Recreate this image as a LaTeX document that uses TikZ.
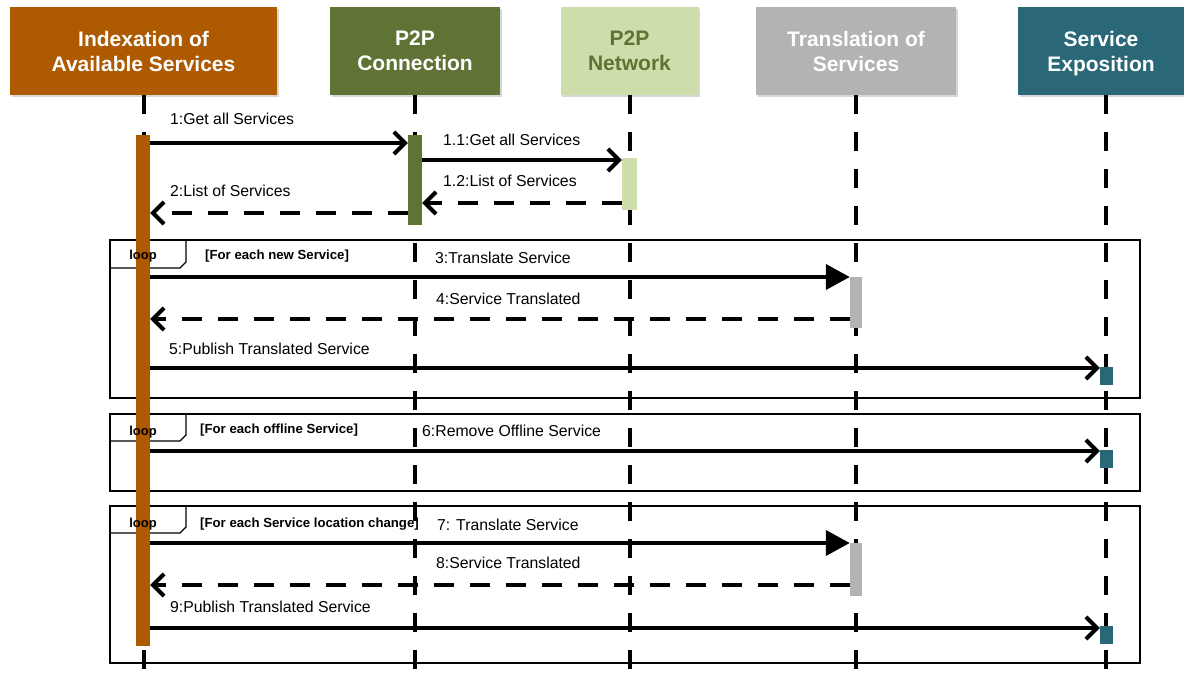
\documentclass[tikz,border=0pt]{standalone}
\usepackage{fontspec}
\setmainfont{Liberation Sans}
\usetikzlibrary{arrows.meta,shadows}

\definecolor{idxorange}{HTML}{AD5A00}
\definecolor{conngreen}{HTML}{5F7334}
\definecolor{netgreen}{HTML}{CDDDAB}
\definecolor{transgray}{HTML}{B3B3B3}
\definecolor{expoteal}{HTML}{2A6877}

\begin{document}
\begin{tikzpicture}[x=1pt,y=-1pt,
  header/.style={draw=none, minimum height=88pt, inner sep=0pt, align=center,
    font=\fontsize{21}{25}\selectfont\bfseries,
    drop shadow={shadow xshift=1.5pt, shadow yshift=-2pt, opacity=0.3}},
  lifeline/.style={line width=4pt, dash pattern=on 19pt off 18pt},
  actbar/.style={draw=none, inner sep=0pt},
  call/.style={line width=4pt, -{Straight Barb[length=11pt,width=22pt]}},
  callfill/.style={line width=4pt, -{Triangle[length=24pt,width=25pt]}},
  reply/.style={line width=4pt, dash pattern=on 20pt off 16pt, -{Straight Barb[length=11pt,width=22pt]}},
  msglabel/.style={anchor=west, inner sep=0pt, font=\fontsize{15.8}{18}\selectfont},
  frame/.style={line width=1.2pt},
  looptag/.style={inner sep=0pt, font=\fontsize{13}{15}\selectfont\bfseries},
  guard/.style={anchor=west, inner sep=0pt, font=\fontsize{13.2}{15}\selectfont\bfseries}
]
\useasboundingbox (0,0) rectangle (1184,673);
\fill[white] (0,0) rectangle (1184,673);

% participants
\node[header, fill=idxorange, text=white, minimum width=267pt] (h1) at (143.5,51) {Indexation of\\Available Services};
\node[header, fill=conngreen, text=white, minimum width=170pt] (h2) at (415,51) {P2P\\Connection};
\node[header, fill=netgreen, text=conngreen, minimum width=138pt] (h3) at (629.5,51) {P2P\\Network};
\node[header, fill=transgray, text=white, minimum width=200pt] (h4) at (856,51) {Translation of\\Services};
\node[header, fill=expoteal, text=white, minimum width=166pt] (h5) at (1101,51) {Service\\\raisebox{0pt}[\height][0pt]{Exposition}};

\coordinate (floor) at (0,673);
\coordinate (top5) at (1106,95);

% combined fragments (loops)
\draw[frame] (110,240) rectangle (1140,398);
\draw[frame] (110,268) -- (180,268) -- (186,262) -- (186,240);
\draw[frame] (110,414) rectangle (1140,491);
\draw[frame] (110,441) -- (180,441) -- (186,435) -- (186,414);
\draw[frame] (110,506) rectangle (1140,663);
\draw[frame] (110,533) -- (180,533) -- (186,527) -- (186,506);

\node[guard] (g1) at (205,256) {[For each new Service]};
\node[guard] (g2) at (200,430) {[For each offline Service]};
\node[guard] (g3) at (200,524) {[For each Service location change]};

% lifelines
\draw[lifeline] (h1.south) -- (h1.south |- floor);
\draw[lifeline] (h2.south) -- (h2.south |- floor);
\draw[lifeline] (h3.south) -- (h3.south |- floor);
\draw[lifeline] (h4.south) -- (h4.south |- floor);
\draw[lifeline] (top5) -- (top5 |- floor);

% activation bars
\node[actbar, fill=idxorange, minimum width=14pt, minimum height=511pt] (a1) at (143,390.5) {};
\node[actbar, fill=conngreen, minimum width=14pt, minimum height=90pt] (a2) at (415,180) {};
\node[actbar, fill=netgreen, minimum width=15pt, minimum height=52pt] (a3) at (629.5,184) {};
\node[actbar, fill=transgray, minimum width=12pt, minimum height=51pt] (a4) at (856,302.5) {};
\node[actbar, fill=transgray, minimum width=12pt, minimum height=53pt] (a4b) at (856,569.5) {};
\node[actbar, fill=expoteal, minimum width=13pt, minimum height=18pt] (s1) at (1106.5,376) {};
\node[actbar, fill=expoteal, minimum width=13pt, minimum height=18pt] (s2) at (1106.5,459) {};
\node[actbar, fill=expoteal, minimum width=13pt, minimum height=18pt] (s3) at (1106.5,634.5) {};

% loop tags
\node[looptag] (t1) at (143,256) {loop};
\node[looptag] (t2) at (143,432) {loop};
\node[looptag] (t3) at (143,524) {loop};

% message rows
\coordinate (y1) at (0,143);
\coordinate (y11) at (0,160);
\coordinate (y12) at (0,203);
\coordinate (y2) at (0,213);
\coordinate (y3) at (0,277);
\coordinate (y4) at (0,319);
\coordinate (y5) at (0,368);
\coordinate (y6) at (0,451);
\coordinate (y7) at (0,543);
\coordinate (y8) at (0,585);
\coordinate (y9) at (0,628);

% messages
\draw[call] (a1.east |- y1) -- (a2.west |- y1);
\draw[call] (a2.east |- y11) -- (a3.west |- y11);
\draw[reply] (a3.west |- y12) -- (a2.east |- y12);
\draw[reply] (a2.west |- y2) -- (a1.east |- y2);
\draw[callfill] (a1.east |- y3) -- (a4.west |- y3);
\draw[reply] (a4.west |- y4) -- (a1.east |- y4);
\draw[call] (a1.east |- y5) -- (s1.west |- y5);
\draw[call] (a1.east |- y6) -- (s2.west |- y6);
\draw[callfill] (a1.east |- y7) -- (a4b.west |- y7);
\draw[reply] (a4b.west |- y8) -- (a1.east |- y8);
\draw[call] (a1.east |- y9) -- (s3.west |- y9);

% message labels
\node[msglabel] (l1) at (170,119) {1:Get all Services};
\node[msglabel] (l11) at (443,140) {1.1:Get all Services};
\node[msglabel] (l12) at (443,181) {1.2:List of Services};
\node[msglabel] (l2) at (170,191) {2:List of Services};
\node[msglabel] (l3) at (435,258) {3:Translate Service};
\node[msglabel] (l4) at (436,299) {4:Service Translated};
\node[msglabel] (l5) at (169,349) {5:Publish Translated Service};
\node[msglabel] (l6) at (422,431) {6:Remove Offline Service};
\node[msglabel] (l7) at (437,525) {7: Translate Service};
\node[msglabel] (l8) at (436,563) {8:Service Translated};
\node[msglabel] (l9) at (170,607) {9:Publish Translated Service};
\end{tikzpicture}
\end{document}
